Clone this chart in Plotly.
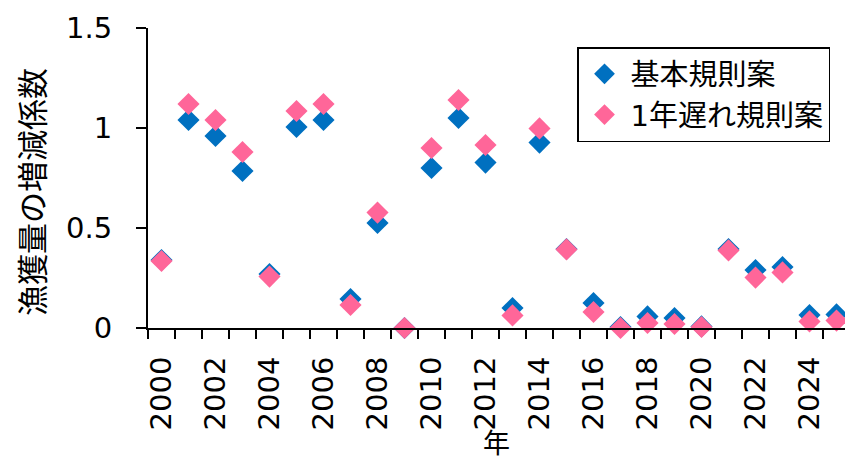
import plotly.graph_objects as go

years = list(range(2000, 2026))
basic = [0.34, 1.04, 0.96, 0.785, 0.27, 1.005, 1.04, 0.145, 0.525, 0.0,
         0.80, 1.05, 0.827, 0.10, 0.927, 0.395, 0.125, 0.005, 0.058, 0.05,
         0.008, 0.395, 0.29, 0.305, 0.065, 0.068]
delayed = [0.335, 1.12, 1.04, 0.88, 0.257, 1.085, 1.12, 0.115, 0.577, 0.0,
           0.90, 1.14, 0.915, 0.063, 0.998, 0.393, 0.08, 0.0, 0.025, 0.02,
           0.005, 0.388, 0.252, 0.278, 0.033, 0.037]
names = ["基本規則案", "1年遅れ規則案"]
xtick_vals = list(range(2000, 2025, 2))
ytick_vals = [0, 0.5, 1, 1.5]
ytick_text = ["0", "0.5", "1", "1.5"]
x_title = "年"
y_title = "漁獲量の増減係数"

FONT = "DejaVu Sans, Verdana, Noto Sans CJK JP"
CJK = "Noto Sans CJK JP"

fig = go.Figure()
fig.add_trace(go.Scatter(x=years, y=basic, mode="markers", name=names[0],
                         marker=dict(symbol="diamond", size=17, color="#0070C0"),
                         cliponaxis=False))
fig.add_trace(go.Scatter(x=years, y=delayed, mode="markers", name=names[1],
                         marker=dict(symbol="diamond", size=17, color="#FF6699"),
                         cliponaxis=False))

fig.update_layout(
    width=845, height=460,
    margin=dict(l=148, r=0, t=28, b=132, autoexpand=False),
    paper_bgcolor="white", plot_bgcolor="white",
    font=dict(family=FONT, color="black", size=29),
    showlegend=True,
    legend=dict(x=(577 - 148) / 697, y=(328 - 47) / 300, xanchor="left", yanchor="top",
                bordercolor="black", borderwidth=1.5, bgcolor="white",
                font=dict(family=FONT, size=29), itemsizing="trace",
                itemwidth=42, tracegroupgap=0),
    annotations=[
        dict(text=y_title, textangle=-90, xref="paper", yref="paper",
             x=(30 - 148) / 697, y=(328 - 192) / 300,
             xanchor="center", yanchor="middle", showarrow=False,
             font=dict(family=CJK, size=31, color="black")),
        dict(text=x_title, xref="paper", yref="paper",
             x=0.5, y=(328 - 442) / 300,
             xanchor="center", yanchor="middle", showarrow=False,
             font=dict(family=CJK, size=27, color="black")),
    ],
)
fig.update_xaxes(
    range=[1999.5, 1999.5 + 697 / 27],
    tickmode="array", tickvals=xtick_vals, ticktext=[str(v) for v in xtick_vals],
    tickangle=-90, ticks="", showgrid=False, zeroline=False,
    showline=True, linecolor="black", linewidth=2,
    tickfont=dict(family=FONT, size=29),
    ticklabelstandoff=15, automargin=False,
    minor=dict(tickmode="array", tickvals=[y - 0.5 for y in years] + [2025.5],
               ticks="outside", ticklen=9, tickwidth=2, tickcolor="black", showgrid=False),
)
fig.update_yaxes(
    range=[0, 1.5],
    tickmode="array", tickvals=ytick_vals, ticktext=ytick_text,
    ticks="outside", ticklen=10, tickwidth=2, tickcolor="black",
    showgrid=False, zeroline=False,
    showline=True, linecolor="black", linewidth=2,
    tickfont=dict(family=FONT, size=29),
    ticklabelstandoff=18, automargin=False,
)
fig.write_html("out.html")
